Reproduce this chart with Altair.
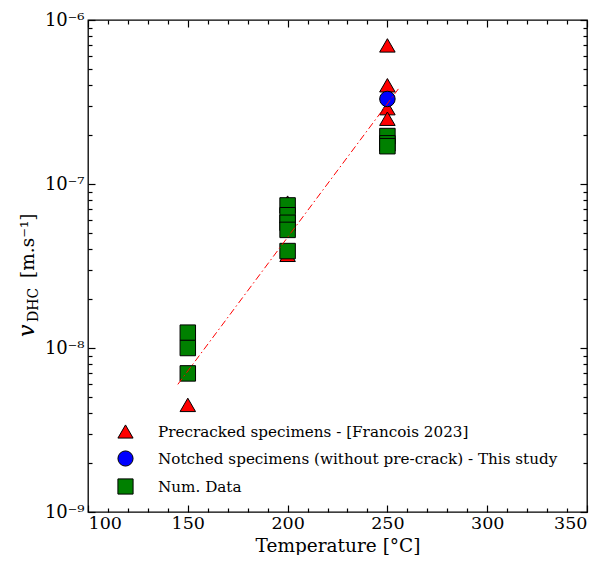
import altair as alt
import pandas as pd

# ---- data ----
tri_T = [250, 250, 250, 250, 200, 200, 150]
tri_v = [7.0e-7, 4.0e-7, 2.9e-7, 2.5e-7, 7.7e-8, 3.7e-8, 4.5e-9]
circ_T = [250]
circ_v = [3.3e-7]
sq_T = [250, 250, 250, 200, 200, 200, 200, 200, 150, 150, 150]
sq_v = [1.96e-7, 1.77e-7, 1.70e-7, 7.4e-8, 6.45e-8, 5.8e-8, 5.25e-8, 3.9e-8, 1.24e-8, 1.0e-8, 7.0e-9]
fit_T = [145, 255.5]
fit_v = [6.0e-9, 3.8e-7]

series = ["Precracked specimens - [Francois 2023]",
          "Notched specimens (without pre-crack) - This study",
          "Num. Data"]
colors = ["#ff0000", "#0000ff", "#008000"]
shapes = ["triangle-up", "circle", "square"]

x_major = [100, 150, 200, 250, 300, 350]
x_minor = [v for v in range(110, 350, 10) if v % 50 != 0]
y_major = [1e-9, 1e-8, 1e-7, 1e-6]
y_major_labels = ["10⁻⁹", "10⁻⁸", "10⁻⁷", "10⁻⁶"]
y_minor = [k * m for m in [1e-9, 1e-8, 1e-7] for k in range(2, 10)]

W, H = 499, 492
FONT = "DejaVu Serif"

pts = pd.DataFrame({
    "T": tri_T + circ_T + sq_T,
    "v": tri_v + circ_v + sq_v,
    "s": [series[0]] * len(tri_T) + [series[1]] * len(circ_T) + [series[2]] * len(sq_T),
})
fit = pd.DataFrame({"T": fit_T, "v": fit_v})

xs = alt.Scale(domain=[100, 350], nice=False, zero=False)
ys = alt.Scale(type="log", domain=[1e-9, 1e-6], nice=False)

label_expr = " : ".join(
    f"datum.value < {v * 1.5} ? '{l}'" for v, l in zip(y_major, y_major_labels)
) + " : ''"

def tick_axis(orient, values, size, offset):
    return alt.Axis(orient=orient, values=values, tickSize=size, labels=False,
                    domain=False, grid=False, title=None, offset=offset,
                    tickColor="black", tickWidth=1.2)

points = alt.Chart(pts).mark_point(filled=True, opacity=1, stroke="black",
                                   strokeWidth=1, size=240).encode(
    x=alt.X("T:Q", scale=xs, axis=alt.Axis(values=x_major, ticks=False, tickSize=0,
            domain=False, grid=False, labelFontSize=17.5, labelPadding=2,
            title="Temperature [°C]", titleFontSize=18.5, titleFontWeight="normal",
            titlePadding=5, labelFont=FONT, titleFont=FONT, labelColor="black",
            titleColor="black")),
    y=alt.Y("v:Q", scale=ys, axis=alt.Axis(values=y_major, ticks=False, tickSize=0,
            domain=False, grid=False, labelExpr=label_expr, labelFontSize=18,
            labelPadding=4, title=None, labelFont=FONT, labelColor="black",
            labelBaseline="middle")),
    color=alt.Color("s:N", scale=alt.Scale(domain=series, range=colors),
                    sort=series,
                    legend=alt.Legend(title=None, orient="none", legendX=29, legendY=403,
                                      labelFont=FONT, labelFontSize=15.2, labelColor="black",
                                      symbolSize=230, symbolStrokeColor="black",
                                      symbolStrokeWidth=1, symbolOpacity=1,
                                      rowPadding=7, labelOffset=24, labelLimit=500)),
    shape=alt.Shape("s:N", scale=alt.Scale(domain=series, range=shapes), sort=series),
    order=alt.Order("idx:Q"),
).transform_window(idx="row_number()")

line = alt.Chart(fit).mark_line(color="#ff0000", strokeWidth=1,
                                strokeDash=[7, 3, 1.5, 3]).encode(
    x=alt.X("T:Q", scale=xs, axis=tick_axis("top", x_major, 7, -H)),
    y=alt.Y("v:Q", scale=ys, axis=tick_axis("right", y_major, 7, -W)),
)

def ghost(xo, xv, xsz, yo, yv, ysz):
    return alt.Chart(fit).mark_point(opacity=0).encode(
        x=alt.X("T:Q", scale=xs, axis=tick_axis(xo, xv, xsz, -H)),
        y=alt.Y("v:Q", scale=ys, axis=tick_axis(yo, yv, ysz, -W)),
    )

g1 = ghost("top", x_minor, 4, "right", y_minor, 4)
g2 = ghost("bottom", x_major, 7, "left", y_major, 7)
g3 = ghost("bottom", x_minor, 4, "left", y_minor, 4)

one = pd.DataFrame({"t": ["x"]})
def txt(s, x, y, size, style="normal"):
    return alt.Chart(one).mark_text(text=s, angle=270, align="left",
                                    baseline="alphabetic", font=FONT,
                                    fontSize=size, fontStyle=style,
                                    color="black").encode(
        x=alt.value(x), y=alt.value(y))

ytitle = alt.layer(
    txt("v", -54, 317, 22, "italic"),
    txt("DHC", -50, 302, 14),
    txt("[m.s⁻¹]", -54, 258, 18.5),
)

chart = alt.layer(points, line, g1, g2, g3, ytitle).resolve_axis(
    x="independent", y="independent"
).properties(
    width=W, height=H,
    autosize=alt.AutoSizeParams(type="none"),
    padding={"left": 80, "top": 12, "right": 8, "bottom": 43},
).configure(
    background="white",
    view=alt.ViewConfig(stroke="black", strokeWidth=1.3, strokeOpacity=1),
)

chart.save("out.html", embed_options={"renderer": "svg", "actions": False})
